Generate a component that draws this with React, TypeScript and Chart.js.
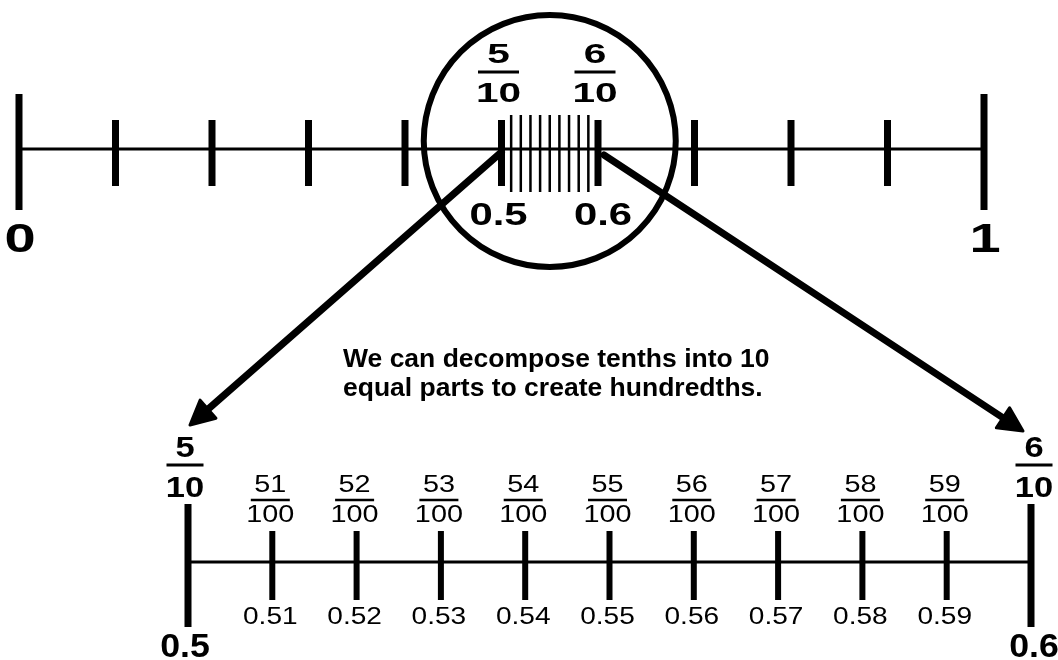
import React, { useEffect, useRef } from "react";
import { Chart, registerables } from "chart.js";

Chart.register(...registerables);

// ---------------- DATA ----------------
const wholeTicks = [0, 1];
const wholeLabels = ["0", "1"];
const tenthTicks = [0.1, 0.2, 0.3, 0.4, 0.5, 0.6, 0.7, 0.8, 0.9];
const focusTenths = [0.5, 0.6];
const focusFractions = ["5/10", "6/10"];
const focusDecimals = ["0.5", "0.6"];
const hundredthTicks = [0.51, 0.52, 0.53, 0.54, 0.55, 0.56, 0.57, 0.58, 0.59];
const hundredthFractions = ["51/100", "52/100", "53/100", "54/100", "55/100", "56/100", "57/100", "58/100", "59/100"];
const hundredthDecimals = ["0.51", "0.52", "0.53", "0.54", "0.55", "0.56", "0.57", "0.58", "0.59"];
const magnifierCenter = [0.55];
const captionLines = ["We can decompose tenths into 10", "equal parts to create hundredths."];

// ---------------- LAYOUT (pixels / styles) ----------------
const W = 1058;
const H = 660;
const FONT = '"Liberation Sans", Arial, sans-serif';
const TOP = { px0: 19, px1: 984, y: 149, wholeT: 94, wholeB: 210, tenthT: 120, tenthB: 186, fineT: 115, fineB: 192 };
const BOT = { px0: 188, px1: 1031, y: 562, endT: 504, endB: 627, tickT: 531, tickB: 600 };
const CIRCLE = { y: 141, r: 126, w: 6 };

function fitScale(v0: number, p0: number, v1: number, p1: number) {
  const k = (v1 - v0) / (p1 - p0);
  const min = v0 - p0 * k;
  return { min, max: min + W * k };
}

const seg = (vals: number[], y1: number, y2: number) =>
  vals.flatMap((v) => [
    { x: v, y: y1 },
    { x: v, y: y2 },
    { x: v, y: null as any },
  ]);

function lineSet(axis: string, data: any[], width: number) {
  return {
    type: "line" as const,
    xAxisID: axis,
    yAxisID: "y",
    data,
    borderColor: "#000",
    borderWidth: width,
    borderCapStyle: "butt" as const,
    pointRadius: 0,
    pointHoverRadius: 0,
    spanGaps: false,
    tension: 0,
    fill: false,
    showLine: true,
    clip: false,
  };
}

function drawText(ctx: CanvasRenderingContext2D, text: string, x: number, y: number, font: string, stretch: number, align: CanvasTextAlign = "center") {
  ctx.save();
  ctx.font = font;
  ctx.textAlign = align;
  ctx.textBaseline = "alphabetic";
  ctx.translate(x, y);
  ctx.scale(stretch, 1);
  ctx.fillText(text, 0, 0);
  ctx.restore();
}

function drawFraction(
  ctx: CanvasRenderingContext2D,
  text: string,
  cx: number,
  numBase: number,
  barY: number,
  denBase: number,
  font: string,
  stretch: number,
  barW: number,
  barT: number
) {
  const [num, den] = text.split("/");
  drawText(ctx, num, cx, numBase, font, stretch);
  ctx.fillRect(cx - barW / 2, barY - barT / 2, barW, barT);
  drawText(ctx, den, cx, denBase, font, stretch);
}

function drawArrow(ctx: CanvasRenderingContext2D, x0: number, y0: number, x1: number, y1: number, w: number, headLen: number, headHalf: number) {
  const a = Math.atan2(y1 - y0, x1 - x0);
  const bx = x1 - headLen * Math.cos(a);
  const by = y1 - headLen * Math.sin(a);
  ctx.save();
  ctx.lineWidth = w;
  ctx.lineCap = "round";
  ctx.beginPath();
  ctx.moveTo(x0, y0);
  ctx.lineTo(bx + 2 * Math.cos(a), by + 2 * Math.sin(a));
  ctx.stroke();
  const px = -Math.sin(a);
  const py = Math.cos(a);
  ctx.lineJoin = "round";
  ctx.lineWidth = 3;
  ctx.beginPath();
  ctx.moveTo(x1, y1);
  ctx.lineTo(bx + px * headHalf, by + py * headHalf);
  ctx.lineTo(bx - px * headHalf, by - py * headHalf);
  ctx.closePath();
  ctx.fill();
  ctx.stroke();
  ctx.restore();
}

const labelPlugin = {
  id: "numberLineLabels",
  afterDatasetsDraw(chart: any) {
    const ctx: CanvasRenderingContext2D = chart.ctx;
    const xt = chart.scales.xTop;
    const xb = chart.scales.xBot;
    const ys = chart.scales.y;
    const Y = (v: number) => ys.getPixelForValue(v);
    ctx.save();
    ctx.fillStyle = "#000";
    ctx.strokeStyle = "#000";

    // whole-number labels on the top line
    wholeTicks.forEach((v, i) => {
      drawText(ctx, wholeLabels[i], xt.getPixelForValue(v) + 1, Y(252), `bold 40px ${FONT}`, 1.4);
    });

    // magnified tenths (top)
    focusTenths.forEach((v, i) => {
      const cx = xt.getPixelForValue(v);
      drawFraction(ctx, focusFractions[i], cx - 3, Y(63), Y(72), Y(102), `bold 28px ${FONT}`, 1.45, 41, 3);
      drawText(ctx, focusDecimals[i], cx + (i === 0 ? -3 : 5), Y(225), `bold 31px ${FONT}`, 1.35);
    });

    // arrows from the top tenths to the bottom line ends
    drawArrow(ctx, xt.getPixelForValue(focusTenths[0]), Y(TOP.y + 3), xb.getPixelForValue(focusTenths[0]) + 2, Y(425), 7, 24, 12);
    drawArrow(ctx, xt.getPixelForValue(focusTenths[1]) + 6, Y(TOP.y + 6), xb.getPixelForValue(focusTenths[1]) - 8, Y(431), 7, 24, 12);

    // caption
    captionLines.forEach((t, i) => {
      drawText(ctx, t, 343, Y(367 + i * 29), `bold 26.5px ${FONT}`, 1.0, "left");
    });

    // bottom line: tenth end labels
    focusTenths.forEach((v, i) => {
      const cx = xb.getPixelForValue(v) + (i === 0 ? -3 : 3);
      drawFraction(ctx, focusFractions[i], cx, Y(457), Y(465), Y(497), `bold 30px ${FONT}`, 1.15, 37, 3);
      drawText(ctx, focusDecimals[i], cx, Y(657), `bold 34px ${FONT}`, 1.05);
    });

    // hundredths labels
    hundredthTicks.forEach((v, i) => {
      const cx = xb.getPixelForValue(v) - 2;
      drawFraction(ctx, hundredthFractions[i], cx, Y(492), Y(500), Y(522), `24px ${FONT}`, 1.2, 39, 2.5);
      drawText(ctx, hundredthDecimals[i], cx, Y(624), `23px ${FONT}`, 1.22);
    });

    ctx.restore();
  },
};

export default function App() {
  const ref = useRef<HTMLCanvasElement | null>(null);

  useEffect(() => {
    if (!ref.current) return;
    const top = fitScale(wholeTicks[0], TOP.px0, wholeTicks[1], TOP.px1);
    const bot = fitScale(focusTenths[0], BOT.px0, focusTenths[1], BOT.px1);

    const chart = new Chart(ref.current, {
      type: "line",
      data: {
        datasets: [
          // top number line
          lineSet("xTop", [{ x: wholeTicks[0], y: TOP.y }, { x: wholeTicks[1], y: TOP.y }], 3),
          lineSet("xTop", seg(wholeTicks, TOP.wholeT, TOP.wholeB), 7),
          lineSet("xTop", seg(tenthTicks, TOP.tenthT, TOP.tenthB), 7),
          lineSet("xTop", seg(hundredthTicks, TOP.fineT, TOP.fineB), 2.5),
          // magnifier circle
          {
            type: "line" as const,
            xAxisID: "xTop",
            yAxisID: "y",
            data: magnifierCenter.map((v) => ({ x: v, y: CIRCLE.y })),
            showLine: false,
            clip: false,
            pointRadius: CIRCLE.r,
            pointHoverRadius: CIRCLE.r,
            pointBorderWidth: CIRCLE.w,
            pointHoverBorderWidth: CIRCLE.w,
            pointBorderColor: "#000",
            pointBackgroundColor: "rgba(0,0,0,0)",
          },
          // bottom number line
          lineSet("xBot", [{ x: focusTenths[0], y: BOT.y }, { x: focusTenths[1], y: BOT.y }], 3),
          lineSet("xBot", seg(focusTenths, BOT.endT, BOT.endB), 7),
          lineSet("xBot", seg(hundredthTicks, BOT.tickT, BOT.tickB), 6),
        ] as any,
      },
      options: {
        animation: false,
        responsive: false,
        devicePixelRatio: 1,
        events: [],
        layout: { padding: 0, autoPadding: false },
        plugins: { legend: { display: false }, tooltip: { enabled: false }, title: { display: false } },
        scales: {
          xTop: { type: "linear", axis: "x", display: false, bounds: "data", min: top.min, max: top.max },
          xBot: { type: "linear", axis: "x", display: false, bounds: "data", min: bot.min, max: bot.max },
          y: { type: "linear", axis: "y", display: false, bounds: "data", min: 0, max: H, reverse: true },
        } as any,
      } as any,
      plugins: [labelPlugin],
    });
    return () => chart.destroy();
  }, []);

  return (
    <div style={{ position: "fixed", left: 0, top: 0, width: W, height: H, background: "#fff" }}>
      <canvas ref={ref} width={W} height={H} style={{ display: "block", width: W, height: H }} />
    </div>
  );
}
